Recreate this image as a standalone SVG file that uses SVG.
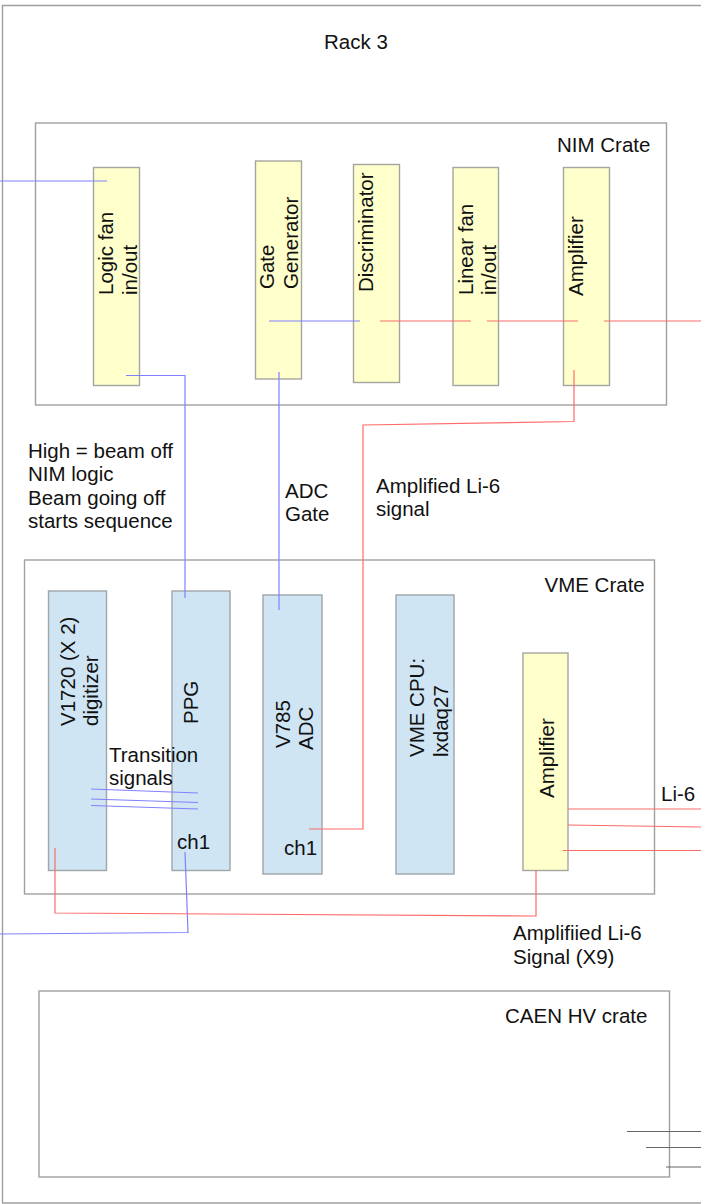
<svg xmlns="http://www.w3.org/2000/svg" width="701" height="1204" viewBox="0 0 701 1204">
<style>
text{font-family:"Liberation Sans",Arial,sans-serif;font-size:20.500px;fill:#111}
.frame{fill:none;stroke:#a0a0a0;stroke-width:1.4}
.y{fill:#ffffcc;stroke:#a5a5a0;stroke-width:1.4}
.b{fill:#cfe5f4;stroke:#a0a5a8;stroke-width:1.4}
.bl,.rd,.k{fill:none;stroke-width:1.2}
.bl{stroke:#8080ff}
.rd{stroke:#ff6a6a}
.k{stroke:#666}
</style>
<rect width="701" height="1204" fill="#fff"/>
<g id="rack"><path class="frame" d="M701 5.500H2.500V1203H701"/><text x="324" y="49">Rack 3</text></g>
<g id="nim-crate"><rect class="frame" x="35.500" y="123" width="631" height="282"/><text x="557" y="152">NIM Crate</text></g>
<g id="vme-crate"><rect class="frame" x="24.500" y="560" width="630" height="334"/><text x="544.500" y="592">VME Crate</text></g>
<g id="hv-crate"><rect class="frame" x="39" y="991" width="630.500" height="186"/><text x="505" y="1023">CAEN HV crate</text></g>
<g id="logic-fan"><rect class="y" x="93.500" y="167.500" width="46" height="218"/><text transform="translate(113 295) rotate(-90)">Logic fan</text><text transform="translate(136.500 295) rotate(-90)" >in/out</text></g>
<g id="gate-generator"><rect class="y" x="255.500" y="161" width="46" height="218"/><text transform="translate(274 289) rotate(-90)">Gate</text><text transform="translate(298 289) rotate(-90)">Generator</text></g>
<g id="discriminator"><rect class="y" x="353.500" y="164.500" width="46" height="218"/><text transform="translate(373 292) rotate(-90)">Discriminator</text></g>
<g id="linear-fan"><rect class="y" x="453" y="167.500" width="45.500" height="218"/><text transform="translate(472.500 295) rotate(-90)">Linear fan</text><text transform="translate(496 295) rotate(-90)">in/out</text></g>
<g id="amplifier-nim"><rect class="y" x="563.500" y="167.500" width="46" height="218"/><text transform="translate(583 296) rotate(-90)">Amplifier</text></g>
<g id="v1720"><rect class="b" x="48.500" y="591" width="58" height="279.500"/><text transform="translate(74.500 726) rotate(-90)">V1720 (X 2)</text><text transform="translate(98 726) rotate(-90)">digitizer</text></g>
<g id="ppg"><rect class="b" x="172" y="591" width="58" height="279.500"/><text transform="translate(198 724) rotate(-90)">PPG</text><text x="177" y="849">ch1</text></g>
<g id="v785"><rect class="b" x="263" y="595" width="59" height="279"/><text transform="translate(289.500 748) rotate(-90)">V785</text><text transform="translate(313 750) rotate(-90)">ADC</text><text x="284" y="855">ch1</text></g>
<g id="vme-cpu"><rect class="b" x="396" y="595" width="58" height="279"/><text transform="translate(424 757) rotate(-90)">VME CPU:</text><text transform="translate(448 757) rotate(-90)">lxdaq27</text></g>
<g id="amplifier-vme"><rect class="y" x="523" y="653" width="45" height="217.500"/><text transform="translate(554 798) rotate(-90)">Amplifier</text></g>
<g id="connectors">
<path class="bl" d="M0 181H107M126 375.500H185V598M269 321H360M279 372V610M91 789L198 793M91 799L198 802.500M91 805.500L198 809M185 852L188 932.500L0 934"/>
<path class="rd" d="M380 321H471M487 321H578M604 321H701M574 370V421.500L363 425V829H309M55 848V913L536 916V870M568 809H701M568 825L701 827M563 850.500H701"/>
<path class="k" d="M627 1131.500H701M646 1147.500H701M666 1167H701"/>
</g>
<g id="labels">
<text x="28" y="458">High = beam off</text><text x="28" y="481">NIM logic</text><text x="28" y="505">Beam going off</text><text x="28" y="528">starts sequence</text>
<text x="285" y="498">ADC</text><text x="285" y="521">Gate</text>
<text x="376" y="493">Amplified Li-6</text><text x="376" y="516">signal</text>
<text x="109" y="762">Transition</text><text x="109" y="785">signals</text>
<text x="661" y="801">Li-6</text>
<text x="513" y="940">Amplifiied Li-6</text><text x="513" y="964">Signal (X9)</text>
</g>
</svg>
